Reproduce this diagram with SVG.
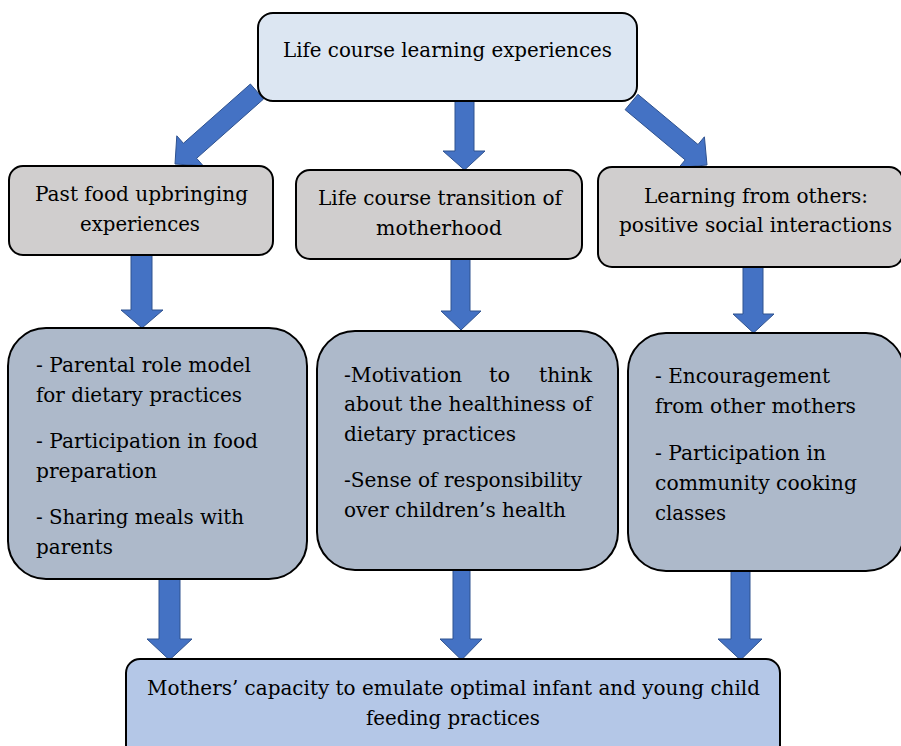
<svg xmlns="http://www.w3.org/2000/svg" width="901" height="746" viewBox="0 0 901 746">
<style>
.box{stroke:#000;stroke-width:2}
.top{fill:#dce6f2}
.gray{fill:#d0cece}
.mid{fill:#adb9ca}
.bot{fill:#b4c7e7}
.arr{fill:#4472c4;stroke:#2f528f;stroke-width:1}
text{font-family:"DejaVu Serif","Liberation Serif",serif;font-size:21px;fill:#000}
.c{text-anchor:middle}
</style>
<rect width="901" height="746" fill="#fff"/>
<g id="connectors">
<polygon class="arr" points="250.4,84 263.6,99 196.6,158.3 203.2,165.8 175,164 176.8,135.8 183.4,143.3"/>
<polygon class="arr" points="455,100 474,100 474,151 485,151 464.5,170 443,151 455,151"/>
<polygon class="arr" points="637.9,94.3 625.1,109.7 685.2,159.9 678.8,167.6 707,165 704.4,136.8 698,144.5"/>
<polygon class="arr" points="131,255 152,255 152,310 163,310 142,328 121,310 131,310"/>
<polygon class="arr" points="451,259 470,259 470,311 481,311 461,330 441,311 451,311"/>
<polygon class="arr" points="743,267 763,267 763,314 774,314 753.5,333 733,314 743,314"/>
<polygon class="arr" points="159,579 180,579 180,639 192,639 169.5,660 147,639 159,639"/>
<polygon class="arr" points="453,570 470,570 470,639 482,639 461.5,660 440,639 453,639"/>
<polygon class="arr" points="731,571 750,571 750,639 762,639 740.5,660 718,639 731,639"/>
</g>
<g id="n_top">
<rect class="box top" x="258" y="13" width="379" height="88" rx="15"/>
<text class="c" x="447.5" y="57" textLength="329" lengthAdjust="spacingAndGlyphs">Life course learning experiences</text>
</g>
<g id="n_past">
<rect class="box gray" x="9" y="166" width="264" height="89" rx="14"/>
<text class="c" x="141.5" y="201" textLength="213" lengthAdjust="spacingAndGlyphs">Past food upbringing</text>
<text class="c" x="140" y="231" textLength="120" lengthAdjust="spacingAndGlyphs">experiences</text>
</g>
<g id="n_transition">
<rect class="box gray" x="296" y="170" width="286" height="89" rx="14"/>
<text class="c" x="440" y="205" textLength="244" lengthAdjust="spacingAndGlyphs">Life course transition of</text>
<text class="c" x="439" y="235" textLength="126" lengthAdjust="spacingAndGlyphs">motherhood</text>
</g>
<g id="n_others">
<rect class="box gray" x="598" y="167" width="305" height="100" rx="14"/>
<text class="c" x="756" y="203" textLength="224" lengthAdjust="spacingAndGlyphs">Learning from others:</text>
<text class="c" x="755.5" y="232" textLength="273" lengthAdjust="spacingAndGlyphs">positive social interactions</text>
</g>
<g id="n_past_detail">
<rect class="box mid" x="8" y="328" width="299" height="251" rx="38"/>
<text x="36" y="372" textLength="215" lengthAdjust="spacingAndGlyphs">- Parental role model</text>
<text x="36" y="402" textLength="206" lengthAdjust="spacingAndGlyphs">for dietary practices</text>
<text x="36" y="448" textLength="222" lengthAdjust="spacingAndGlyphs">- Participation in food</text>
<text x="36" y="478" textLength="121" lengthAdjust="spacingAndGlyphs">preparation</text>
<text x="36" y="524" textLength="208" lengthAdjust="spacingAndGlyphs">- Sharing meals with</text>
<text x="36" y="554" textLength="77" lengthAdjust="spacingAndGlyphs">parents</text>
</g>
<g id="n_transition_detail">
<rect class="box mid" x="317" y="331" width="301" height="239" rx="38"/>
<text x="344" y="382" textLength="118" lengthAdjust="spacingAndGlyphs">-Motivation</text>
<text x="489" y="382">to</text>
<text x="539" y="382" textLength="53" lengthAdjust="spacingAndGlyphs">think</text>
<text x="344" y="411" textLength="248" lengthAdjust="spacingAndGlyphs">about the healthiness of</text>
<text x="344" y="441" textLength="172" lengthAdjust="spacingAndGlyphs">dietary practices</text>
<text x="344" y="487" textLength="238" lengthAdjust="spacingAndGlyphs">-Sense of responsibility</text>
<text x="344" y="517" textLength="222" lengthAdjust="spacingAndGlyphs">over children’s health</text>
</g>
<g id="n_others_detail">
<rect class="box mid" x="628" y="333" width="276" height="238" rx="38"/>
<text x="655" y="383" textLength="175" lengthAdjust="spacingAndGlyphs">- Encouragement</text>
<text x="655" y="413" textLength="201" lengthAdjust="spacingAndGlyphs">from other mothers</text>
<text x="655" y="460" textLength="171" lengthAdjust="spacingAndGlyphs">- Participation in</text>
<text x="655" y="490" textLength="202" lengthAdjust="spacingAndGlyphs">community cooking</text>
<text x="655" y="520" textLength="71" lengthAdjust="spacingAndGlyphs">classes</text>
</g>
<g id="n_capacity">
<rect class="box bot" x="126" y="659" width="654" height="100" rx="14"/>
<text class="c" x="453.5" y="695" textLength="613" lengthAdjust="spacingAndGlyphs">Mothers’ capacity to emulate optimal infant and young child</text>
<text class="c" x="453" y="725" textLength="174" lengthAdjust="spacingAndGlyphs">feeding practices</text>
</g>
</svg>
